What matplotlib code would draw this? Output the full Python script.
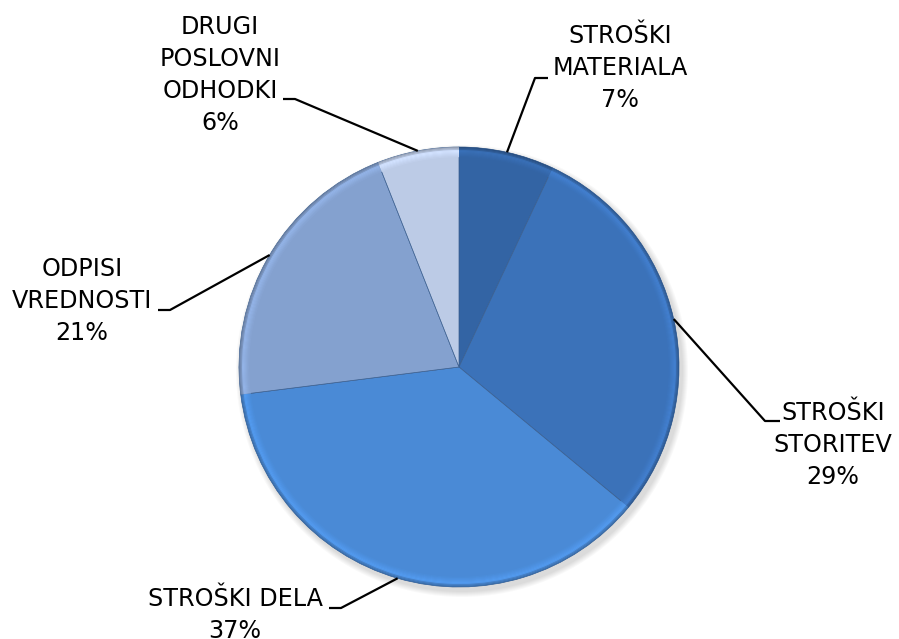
import numpy as np
import matplotlib
matplotlib.use('Agg')
import matplotlib.pyplot as plt
from matplotlib.patches import Wedge, Circle

# podatki
labels = ['STROŠKI\nMATERIALA', 'STROŠKI\nSTORITEV', 'STROŠKI DELA',
          'ODPISI\nVREDNOSTI', 'DRUGI\nPOSLOVNI\nODHODKI']
values = [7, 29, 37, 21, 6]
colors = ['#3364a4', '#3b72b9', '#4a8ad6', '#84a1cf', '#bccbe6']

W, H = 899, 639

# label placement (pixels, y from top): text centre, elbow, end of tick
label_pos = [(620, 68), (833, 445), (235, 615), (82, 301), (220, 75)]
elbows = [(535, 78), (765, 421), (341, 608), (170, 310), (295, 99)]
ticks = [(548, 78), (780, 421), (329, 608), (158, 310), (283, 99)]

fig = plt.figure(figsize=(W / 100, H / 100), dpi=100)
ax = fig.add_axes([0, 0, 1, 1])

cx, cy, r = 459, H - 367, 220

# faint shadow under the pie
for k in range(6):
    ax.add_patch(Circle((cx + 3, cy - 4), r + 6 - k, facecolor='black',
                        alpha=0.025, edgecolor='none', zorder=0))

wedges, _ = ax.pie(values, colors=colors, startangle=90, counterclock=False,
                   center=(cx, cy), radius=r, frame=True,
                   wedgeprops=dict(edgecolor='#3a5f90', linewidth=0.5, zorder=1))
ax.set_xlim(0, W)
ax.set_ylim(0, H)
ax.set_aspect('equal')
ax.axis('off')

# bevel along the rim: dark outer edge, lighter band just inside
shade = [0.78, 0.86, 0.93, 1.10, 1.12, 1.10, 1.08, 1.06, 1.04, 1.02]
for w, c in zip(wedges, colors):
    rgb = np.array(matplotlib.colors.to_rgb(c))
    for k, f in enumerate(shade):
        ax.add_patch(Wedge((cx, cy), r - k, w.theta1, w.theta2, width=1.2,
                           facecolor=np.clip(rgb * f, 0, 1), edgecolor='none', zorder=2))

for w, lab, v, lp, el, tk in zip(wedges, labels, values, label_pos, elbows, ticks):
    ang = np.deg2rad((w.theta1 + w.theta2) / 2)
    x0 = cx + r * np.cos(ang)
    y0 = cy + r * np.sin(ang)
    ax.plot([x0, el[0], tk[0]], [y0, H - el[1], H - tk[1]], color='black', lw=1.6,
            solid_capstyle='butt', zorder=3)
    ax.text(lp[0], H - lp[1], f'{lab}\n{v}%', ha='center', va='center',
            fontsize=17.2, family='DejaVu Sans', linespacing=1.42)

fig.savefig('out.png', dpi=100, facecolor='white')
